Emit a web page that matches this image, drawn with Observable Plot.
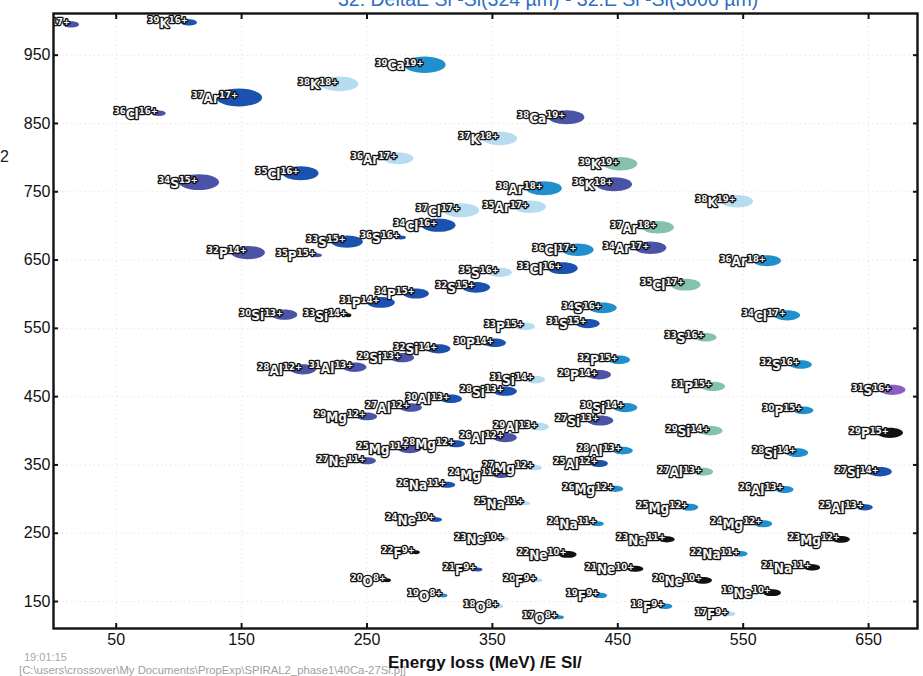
<!DOCTYPE html>
<html>
<head>
<meta charset="utf-8">
<script src="https://cdn.jsdelivr.net/npm/d3@7"></script>
<script src="https://cdn.jsdelivr.net/npm/@observablehq/plot@0.6"></script>
<style>
  html, body { margin: 0; padding: 0; background: #fff; }
  #wrap { position: relative; width: 923px; height: 676px; overflow: hidden; background: #fff; }
  #chart { position: absolute; left: 0; top: 0; }
  .note { position: absolute; white-space: nowrap; line-height: 1; font-family: "Liberation Sans", Arial, sans-serif; }
  #title { left: 338px; top: -10px; font-size: 19.5px; color: #2f6fc2; }
  #ylab { left: 0px; top: 149px; font-size: 16px; color: #222; }
  #stamp { left: 24px; top: 652px; font-size: 11px; color: #a8a8a8; }
  #file { left: 19px; top: 665px; font-size: 11.3px; color: #a0a0a0; }
  #xlab { left: 388px; top: 654px; font-size: 17px; font-weight: bold; color: #111; }
</style>
</head>
<body>
<div id="wrap">
  <div id="chart"></div>
  <div class="note" id="title">32: DeltaE Si -Si(324 µm) - 32:E Si -Si(3000 µm)</div>
  <div class="note" id="ylab">2</div>
  <div class="note" id="stamp">19:01:15</div>
  <div class="note" id="file">[C:\users\crossover\My Documents\PropExp\SPIRAL2_phase1\40Ca-27Si.pj]</div>
  <div class="note" id="xlab">Energy loss (MeV) /E SI/</div>
</div>
<script>
// Identified ions: label, residual energy (E Si), energy loss (DeltaE), relative yield, colour band
const ions = [
  "¹⁷⁺", "³⁹K¹⁶⁺", "³⁹Ca¹⁹⁺", "³⁸K¹⁸⁺", "³⁷Ar¹⁷⁺", "³⁶Cl¹⁶⁺", "³⁶Ar¹⁷⁺", "³⁷K¹⁸⁺", "³⁸Ca¹⁹⁺", "³⁹K¹⁹⁺",
  "³⁴S¹⁵⁺", "³⁵Cl¹⁶⁺", "³²P¹⁴⁺", "³⁵P¹⁵⁺", "³³S¹⁵⁺", "³⁶S¹⁶⁺", "³⁷Cl¹⁷⁺", "³⁴Cl¹⁶⁺", "³⁰Si¹³⁺", "³³Si¹⁴⁺",
  "³¹P¹⁴⁺", "³⁴P¹⁵⁺", "³²S¹⁵⁺", "³⁸Ar¹⁸⁺", "³⁶K¹⁸⁺", "³⁵Ar¹⁷⁺", "³⁸K¹⁹⁺", "³⁷Ar¹⁸⁺", "³⁶Cl¹⁷⁺", "³⁴Ar¹⁷⁺",
  "³⁶Ar¹⁸⁺", "³⁵S¹⁶⁺", "³³Cl¹⁶⁺", "³⁵Cl¹⁷⁺", "³⁴S¹⁶⁺", "³⁴Cl¹⁷⁺", "³¹S¹⁵⁺", "³³P¹⁵⁺", "²⁸Al¹²⁺", "³¹Al¹³⁺",
  "²⁹Si¹³⁺", "³²Si¹⁴⁺", "³⁰Al¹³⁺", "²⁷Al¹²⁺", "²⁹Mg¹²⁺", "²⁵Mg¹¹⁺", "²⁸Mg¹²⁺", "²⁷Na¹¹⁺", "²⁶Na¹¹⁺", "³⁰P¹⁴⁺",
  "³³S¹⁶⁺", "³²P¹⁵⁺", "³²S¹⁶⁺", "²⁹P¹⁴⁺", "³¹Si¹⁴⁺", "²⁸Si¹³⁺", "³¹P¹⁵⁺", "³¹S¹⁶⁺", "³⁰Si¹⁴⁺", "³⁰P¹⁵⁺",
  "²⁹Al¹³⁺", "²⁷Si¹³⁺", "²⁶Al¹²⁺", "²⁹Si¹⁴⁺", "²⁹P¹⁵⁺", "²⁸Al¹³⁺", "²⁵Al¹²⁺", "²⁷Al¹³⁺", "²⁸Si¹⁴⁺", "²⁷Si¹⁴⁺",
  "²⁷Mg¹²⁺", "²⁴Mg¹¹⁺", "²⁶Mg¹²⁺", "²⁶Al¹³⁺", "²⁵Na¹¹⁺", "²⁵Mg¹²⁺", "²⁵Al¹³⁺", "²⁴Mg¹²⁺", "²³Mg¹²⁺", "²⁴Na¹¹⁺",
  "²³Na¹¹⁺", "²²Na¹¹⁺", "²¹Na¹¹⁺", "²³Ne¹⁰⁺", "²²Ne¹⁰⁺", "²¹Ne¹⁰⁺", "²⁰Ne¹⁰⁺", "¹⁹Ne¹⁰⁺", "²⁴Ne¹⁰⁺", "²²F⁹⁺",
  "²¹F⁹⁺", "²⁰F⁹⁺", "¹⁹F⁹⁺", "¹⁸F⁹⁺", "¹⁷F⁹⁺", "²⁰O⁸⁺", "¹⁹O⁸⁺", "¹⁸O⁸⁺", "¹⁷O⁸⁺"
];
const energyE = [
  14, 108, 296, 228, 148, 84, 275, 356, 409, 452,
  116, 197, 155, 210, 234, 277, 325, 307, 184, 235,
  261, 289, 337, 391, 447, 380, 545, 482, 418, 476,
  569, 356, 406, 504, 438, 585, 426, 376, 199, 240,
  278, 307, 317, 285, 250, 284, 321, 250, 314, 352,
  520, 451, 596, 435, 384, 360, 526, 669, 456, 598,
  387, 436, 360, 524, 667, 454, 435, 518, 593, 659,
  384, 357, 448, 583, 376, 507, 647, 566, 628, 434,
  489, 548, 605, 360, 410, 464, 518, 573, 305, 289,
  338, 386, 436, 488, 539, 266, 311, 356, 403
];
const deltaE = [
  995, 998, 936, 908, 888, 865, 799, 828, 859, 791,
  764, 777, 661, 657, 677, 683, 723, 701, 570, 569,
  588, 601, 610, 755, 761, 728, 736, 698, 665, 668,
  649, 632, 638, 614, 580, 569, 557, 553, 490, 493,
  507, 520, 447, 434, 421, 374, 381, 356, 321, 529,
  537, 504, 497, 482, 475, 458, 465, 460, 434, 430,
  406, 415, 390, 400, 397, 371, 352, 340, 368, 340,
  346, 336, 315, 314, 294, 288, 288, 264, 241, 264,
  241, 220, 200, 242, 219, 198, 181, 163, 270, 222,
  197, 181, 159, 143, 132, 181, 159, 143, 127
];
const yieldRel = [
  12, 12, 83, 68, 100, 9, 43, 55, 61, 55,
  76, 61, 55, 5, 48, 5, 61, 55, 32, 2,
  37, 32, 37, 61, 61, 48, 48, 48, 48, 48,
  37, 27, 43, 43, 37, 32, 27, 19, 32, 27,
  27, 27, 23, 23, 19, 27, 15, 15, 12, 23,
  23, 23, 23, 27, 19, 27, 27, 32, 27, 19,
  19, 32, 27, 27, 32, 19, 15, 19, 23, 27,
  9, 15, 12, 15, 5, 15, 12, 15, 15, 7,
  12, 9, 12, 3, 15, 12, 15, 15, 7, 3,
  5, 5, 9, 9, 7, 3, 3, 2, 5
];
const band = [
  "B", "A", "D", "C", "A", "B", "C", "C", "B", "E",
  "B", "A", "B", "B", "A", "A", "C", "A", "B", "F",
  "A", "A", "A", "D", "B", "C", "C", "E", "D", "B",
  "D", "C", "A", "E", "D", "D", "A", "C", "B", "B",
  "B", "A", "A", "B", "B", "B", "A", "B", "A", "A",
  "E", "D", "D", "B", "C", "A", "E", "G", "D", "D",
  "C", "B", "B", "E", "F", "D", "A", "E", "D", "A",
  "C", "B", "D", "D", "C", "D", "A", "D", "F", "D",
  "F", "D", "F", "C", "F", "F", "F", "F", "A", "F",
  "A", "C", "D", "D", "C", "F", "D", "C", "D"
];
const bandNames = ["A", "B", "C", "D", "E", "F", "G"];
const bandColors = ["#1b52b0", "#4b53a6", "#b7dbef", "#1f90cd", "#86c1a9", "#111111", "#8a5cc4"];

// Axis ticks
const xTicks = [50, 150, 250, 350, 450, 550, 650];
const yTicks = [150, 250, 350, 450, 550, 650, 750, 850, 950];

const data = ions.map((name, i) => ({
  name, e: energyE[i], de: deltaE[i], yield: yieldRel[i], band: band[i]
}));

// Flat ellipse symbol: half-width follows the dot radius, height is about 0.39 of it
const ellipse = {
  draw(ctx, size) {
    const rx = Math.sqrt(size / Math.PI);
    const ry = Math.max(2, rx * 0.39);
    const kx = rx * 0.5523, ky = ry * 0.5523;
    ctx.moveTo(rx, 0);
    ctx.bezierCurveTo(rx, ky, kx, ry, 0, ry);
    ctx.bezierCurveTo(-kx, ry, -rx, ky, -rx, 0);
    ctx.bezierCurveTo(-rx, -ky, -kx, -ry, 0, -ry);
    ctx.bezierCurveTo(kx, -ry, rx, -ky, rx, 0);
    ctx.closePath();
  }
};

const chart = Plot.plot({
  width: 923,
  height: 676,
  marginLeft: 53,
  marginRight: 6,
  marginTop: 13,
  marginBottom: 48,
  style: { fontFamily: "'Liberation Sans', Arial, sans-serif", fontSize: "16px", color: "#111", background: "#fff" },
  x: { domain: [0, 689] },
  y: { domain: [110.5, 1011] },
  r: { type: "sqrt", domain: [0, 100], range: [0, 23] },
  color: { type: "ordinal", domain: bandNames, range: bandColors },
  marks: [
    Plot.gridX(xTicks, { stroke: "#888", strokeOpacity: 0.2, strokeDasharray: "1.5,3" }),
    Plot.gridY(yTicks, { stroke: "#888", strokeOpacity: 0.2, strokeDasharray: "1.5,3" }),
    Plot.dot(data, {
      x: "e", y: "de", r: "yield", fill: "band", stroke: "none",
      symbol: ellipse, sort: null, clip: true
    }),
    Plot.text(data, {
      x: "e", y: "de", text: "name",
      textAnchor: "end", lineAnchor: "middle", dx: -1, dy: 1,
      fontFamily: "'DejaVu Sans Condensed', 'DejaVu Sans', sans-serif",
      fontSize: 13.5, fontWeight: "bold",
      fill: "#f4f4f4", stroke: "#111", strokeWidth: 2.6, paintOrder: "stroke",
      clip: true
    }),
    Plot.frame({ stroke: "#111", strokeWidth: 2.4 }),
    Plot.axisX(xTicks, { anchor: "bottom", tickSize: -5, tickPadding: 10, strokeWidth: 2, label: null }),
    Plot.axisX(xTicks, { anchor: "top", tickSize: -5, strokeWidth: 2, fill: "none", label: null }),
    Plot.axisY(yTicks, { anchor: "left", tickSize: -5, tickPadding: 8, strokeWidth: 2, label: null }),
    Plot.axisY(yTicks, { anchor: "right", tickSize: -5, strokeWidth: 2, fill: "none", label: null })
  ]
});

// Typeset each ion label: mass number and charge state as raised, smaller digits
const supChars = "⁰¹²³⁴⁵⁶⁷⁸⁹⁺";
const plainChars = "0123456789+";
const unsup = (s) => [...s].map((c) => { const k = supChars.indexOf(c); return k >= 0 ? plainChars[k] : c; }).join("");
const ionPattern = /^([⁰¹²³⁴⁵⁶⁷⁸⁹]*)([A-Za-z]*)([⁰¹²³⁴⁵⁶⁷⁸⁹⁺]+)$/;
d3.select(chart).selectAll("text").each(function () {
  if (this.querySelector("tspan")) return;
  const m = (this.textContent || "").match(ionPattern);
  if (!m) return;
  const t = d3.select(this);
  t.text(null);
  const rise = 4.5;
  let raised = false;
  if (m[1]) { t.append("tspan").attr("font-size", 9.5).attr("dy", -rise).text(unsup(m[1])); raised = true; }
  if (m[2]) { t.append("tspan").attr("dy", raised ? rise : 0).text(m[2]); raised = false; }
  if (m[3]) { t.append("tspan").attr("font-size", 9.5).attr("dy", raised ? 0 : -rise).text(unsup(m[3])); }
});

document.getElementById("chart").appendChild(chart);
</script>
</body>
</html>
